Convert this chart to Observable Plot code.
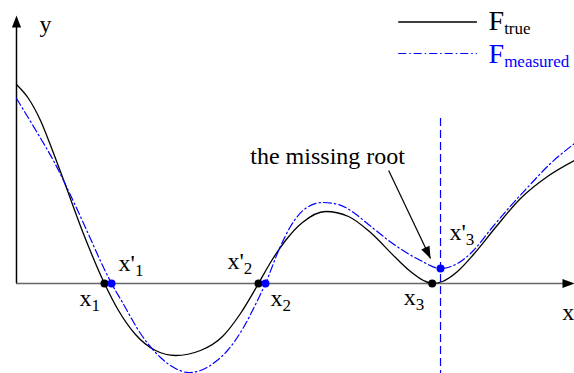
<!DOCTYPE html>
<html>
<head>
<meta charset="utf-8">
<script src="https://cdn.jsdelivr.net/npm/d3@7"></script>
<script src="https://cdn.jsdelivr.net/npm/@observablehq/plot@0.6"></script>
<style>
  html, body { margin: 0; padding: 0; background: #fff; }
  #chart { width: 574px; height: 373px; overflow: hidden; }
</style>
</head>
<body>
<div id="chart"></div>
<script>
// True function, sampled (x, F)
const trueCurve = [
  [0.000, 3.98], [0.215, 3.70], [0.430, 3.26], [0.645, 2.66], [0.860, 2.02],
  [1.219, 0.94], [1.577, 0.00], [1.828, -0.54], [2.133, -1.02], [2.491, -1.34],
  [2.849, -1.44], [3.297, -1.34], [3.692, -1.06], [4.014, -0.60], [4.337, 0.00],
  [4.552, 0.42], [4.821, 0.86], [5.125, 1.22], [5.538, 1.44], [5.950, 1.34],
  [6.344, 1.02], [6.792, 0.52], [7.061, 0.24], [7.294, 0.06], [7.450, 0.00],
  [7.634, 0.04], [7.903, 0.24], [8.190, 0.58], [8.584, 1.12], [9.032, 1.70],
  [9.516, 2.14], [10.000, 2.46]
];

// Measured function, sampled (x, F)
const measuredCurve = [
  [0.000, 3.70], [0.251, 3.24], [0.466, 2.84], [0.681, 2.42], [0.860, 2.02],
  [1.219, 1.16], [1.577, 0.28], [1.703, 0.00], [1.900, -0.38], [2.222, -1.00],
  [2.581, -1.48], [2.849, -1.70], [3.082, -1.78], [3.297, -1.74], [3.548, -1.58],
  [3.781, -1.34], [4.068, -0.88], [4.283, -0.42], [4.462, 0.00], [4.713, 0.70],
  [4.910, 1.14], [5.179, 1.50], [5.484, 1.62], [5.771, 1.58], [6.039, 1.42],
  [6.308, 1.18], [6.792, 0.76], [7.240, 0.46], [7.599, 0.30], [7.903, 0.40],
  [8.190, 0.66], [8.495, 1.08], [8.799, 1.48], [9.158, 1.92], [9.570, 2.40],
  [10.000, 2.80]
];

// Roots of each function (the third measured one is only a near-miss minimum)
const trueRoots = [[1.577, 0], [4.337, 0], [7.45, 0]];
const measuredRoots = [[1.703, 0], [4.462, 0], [7.599, 0.30]];

// Root labels: position, main glyph and subscript ("_" separates them)
const rootLabels = [
  {x: 1.13, y: -0.44, text: "x_1"},
  {x: 1.83, y: 0.26, text: "x'_1"},
  {x: 3.78, y: 0.30, text: "x'_2"},
  {x: 4.55, y: -0.44, text: "x_2"},
  {x: 6.94, y: -0.42, text: "x_3"},
  {x: 7.76, y: 0.88, text: "x'_3"}
];

// Axis names
const axisLabels = [
  {x: 0.41, y: 5.04, text: "y"},
  {x: 9.78, y: -0.72, text: "x"}
];

// Annotation pointing at the missing root
const note = {x: 4.19, y: 2.40, text: "the missing root"};
const noteArrow = {x1: 6.67, y1: 2.26, x2: 7.42, y2: 0.50};

// Legend entries
const legend = [
  {x1: 6.85, x2: 8.26, y: 5.23, tx: 8.46, ty: 5.08, text: "F_true", color: "#000", dash: false},
  {x1: 6.85, x2: 8.26, y: 4.60, tx: 8.46, ty: 4.42, text: "F_measured", color: "#0000ff", dash: true}
];

// Extent of the drawn axes
const xAxisEnd = 10;
const yAxisEnd = 5.36;
const missingRootTop = 3.3;
const chartBottom = -1.9;

// Scales
const xDomain = [0, 10], xRange = [16, 574];
const yDomain = [0, 4], yRange = [283, 83];

const serif = "Liberation Serif, Times New Roman, serif";
const blue = "#0000ff";
const dashDot = "8,3,1.5,3";

// Filled arrowhead whose tip sits on the anchor point, pointing up before rotation
const arrowHead = {
  draw(context, size) {
    const r = Math.sqrt(size / Math.PI);
    context.moveTo(0, 0);
    context.lineTo(-r * 0.38, r);
    context.lineTo(r * 0.38, r);
    context.closePath();
  }
};

// Screen angle of the annotation arrow (clockwise from up)
const pxPerX = (xRange[1] - xRange[0]) / (xDomain[1] - xDomain[0]);
const pxPerY = (yRange[0] - yRange[1]) / (yDomain[1] - yDomain[0]);
const noteAngle = Math.atan2(
  (noteArrow.x2 - noteArrow.x1) * pxPerX,
  (noteArrow.y2 - noteArrow.y1) * pxPerY
) * 180 / Math.PI;

const chart = Plot.plot({
  width: 574,
  height: 373,
  margin: 0,
  x: {domain: xDomain, range: xRange, axis: null},
  y: {domain: yDomain, range: yRange, axis: null},
  style: {background: "#fff", overflow: "hidden"},
  marks: [
    // axes
    Plot.ruleY([0], {x1: 0, x2: xAxisEnd - 0.1, stroke: "#666", strokeWidth: 1.6}),
    Plot.ruleX([0], {y1: 0, y2: yAxisEnd - 0.1, stroke: "#000", strokeWidth: 1.5}),
    Plot.dot([[xAxisEnd, 0]], {x: d => d[0], y: d => d[1], symbol: arrowHead, r: 12, rotate: 90, fill: "#000", stroke: "none"}),
    Plot.dot([[0, yAxisEnd]], {x: d => d[0], y: d => d[1], symbol: arrowHead, r: 12, rotate: 0, fill: "#000", stroke: "none"}),

    // vertical marker through the measured minimum
    Plot.ruleX([measuredRoots[2][0]], {y1: missingRootTop, y2: chartBottom, stroke: blue, strokeWidth: 1.2, strokeDasharray: "8,4"}),

    // curves
    Plot.line(trueCurve, {x: d => d[0], y: d => d[1], curve: "monotone-x", stroke: "#000", strokeWidth: 1.3}),
    Plot.line(measuredCurve, {x: d => d[0], y: d => d[1], curve: "monotone-x", stroke: blue, strokeWidth: 1.2, strokeDasharray: dashDot}),

    // roots
    Plot.dot(trueRoots, {x: d => d[0], y: d => d[1], r: 4, fill: "#000", stroke: "none"}),
    Plot.dot(measuredRoots, {x: d => d[0], y: d => d[1], r: 4, fill: blue, stroke: "none"}),

    // annotation
    Plot.link([noteArrow], {x1: "x1", y1: "y1", x2: "x2", y2: "y2", stroke: "#000", strokeWidth: 1.2}),
    Plot.dot([noteArrow], {x: "x2", y: "y2", symbol: arrowHead, r: 12, rotate: noteAngle, fill: "#000", stroke: "none"}),
    Plot.text([note], {x: "x", y: "y", text: "text", textAnchor: "start", lineAnchor: "bottom", fontSize: 24, fontFamily: serif, fill: "#000"}),

    // labels
    Plot.text(rootLabels, {x: "x", y: "y", text: "text", textAnchor: "start", lineAnchor: "bottom", fontSize: 24, fontFamily: serif, fill: "#000"}),
    Plot.text(axisLabels, {x: "x", y: "y", text: "text", textAnchor: "start", lineAnchor: "bottom", fontSize: 24, fontFamily: serif, fill: "#000"}),

    // legend
    Plot.ruleY(legend.filter(d => !d.dash), {y: "y", x1: "x1", x2: "x2", stroke: "color", strokeWidth: 1.3}),
    Plot.ruleY(legend.filter(d => d.dash), {y: "y", x1: "x1", x2: "x2", stroke: "color", strokeWidth: 1.2, strokeDasharray: dashDot}),
    Plot.text(legend, {x: "tx", y: "ty", text: "text", fill: "color", textAnchor: "start", lineAnchor: "bottom", fontSize: 28, fontFamily: serif})
  ]
});

// Turn "main_sub" labels into a glyph followed by a lowered, smaller subscript
d3.select(chart).selectAll("text").each(function () {
  const full = this.textContent;
  const k = full.indexOf("_");
  if (k < 0) return;
  const main = full.slice(0, k);
  const sub = full.slice(k + 1);
  const isF = main === "F";
  this.textContent = main;
  const ts = document.createElementNS("http://www.w3.org/2000/svg", "tspan");
  ts.setAttribute("font-size", "17px");
  ts.setAttribute("dy", isF ? "4" : "5");
  ts.textContent = sub;
  this.appendChild(ts);
});

document.getElementById("chart").appendChild(chart);
</script>
</body>
</html>
